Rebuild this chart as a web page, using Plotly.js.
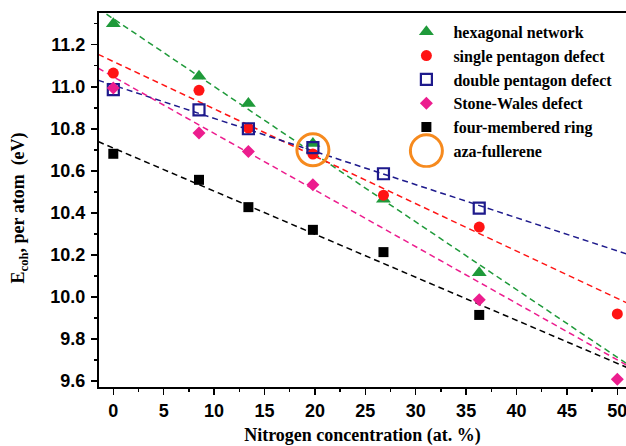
<!DOCTYPE html>
<html>
<head>
<meta charset="utf-8">
<script src="https://cdn.plot.ly/plotly-3.0.1.min.js"></script>
<style>html,body{margin:0;padding:0;background:#fff;}#plot{width:626px;height:446px;}</style>
</head>
<body>
<div id="plot"></div>
<script>
// Nitrogen concentration (at. %)
var nitrogen = [0, 8.5, 13.4, 19.8, 26.8, 36.3, 50];

// Cohesive energy per atom (eV)
var hexagonal = [11.30, 11.05, 10.92, 10.73, 10.465, 10.115, null];
var singlePentagon = [11.065, 10.983, 10.803, 10.68, 10.484, 10.332, 9.919];
var doublePentagon = [10.986, 10.89, 10.80, 10.71, 10.586, 10.422, null];
var stoneWales = [10.994, 10.78, 10.692, 10.533, null, 9.986, 9.608];
var fourMembered = [10.681, 10.557, 10.427, 10.319, 10.213, 9.914, null];

var azaX = [19.8];
var azaY = [10.70];

// Linear fit lines (end points)
var fitX = [-1.5, 51];
var fitHexagonal = [11.372, 9.680];
var fitSingle = [11.154, 9.970];
var fitDouble = [11.031, 10.203];
var fitStoneWales = [11.088, 9.673];
var fitFour = [10.739, 9.663];

var names = ['hexagonal network', 'single pentagon defect', 'double pentagon defect',
             'Stone-Wales defect', 'four-membered ring', 'aza-fullerene'];

var cGreen = '#1f9a3a', cRed = '#ff1414', cNavy = '#1e1a8c', cPink = '#ec1d8e', cBlack = '#000000', cOrange = '#f68a1e';

function fit(y, color) {
  return {x: fitX, y: y, mode: 'lines', showlegend: false, hoverinfo: 'skip',
          line: {color: color, width: 1.5, dash: '6px,4px'}};
}

var traces = [
  fit(fitHexagonal, cGreen),
  fit(fitSingle, cRed),
  fit(fitDouble, cNavy),
  fit(fitStoneWales, cPink),
  fit(fitFour, cBlack),
  {x: nitrogen, y: hexagonal, name: names[0], mode: 'markers', legendgroup: 'a',
   marker: {symbol: 'triangle-up', size: 13, color: cGreen}},
  {x: nitrogen, y: singlePentagon, name: names[1], mode: 'markers', legendgroup: 'b',
   marker: {symbol: 'circle', size: 11, color: cRed}},
  {x: nitrogen, y: doublePentagon, name: names[2], mode: 'markers', legendgroup: 'c',
   marker: {symbol: 'square-open', size: 11, color: cNavy, line: {width: 2.2, color: cNavy}}},
  {x: nitrogen, y: stoneWales, name: names[3], mode: 'markers', legendgroup: 'd',
   marker: {symbol: 'diamond', size: 10, color: cPink}},
  {x: nitrogen, y: fourMembered, name: names[4], mode: 'markers', legendgroup: 'e',
   marker: {symbol: 'square', size: 10, color: cBlack}},
  {x: azaX, y: azaY, name: names[5], mode: 'markers', legendgroup: 'f',
   marker: {symbol: 'circle-open', size: 32, color: cOrange, line: {width: 3, color: cOrange}}}
];

var tickFont = {family: 'Liberation Sans, Arial, sans-serif', size: 18, color: '#000', weight: 'bold'};
var serifBold = {family: 'Liberation Serif, Times New Roman, serif', size: 18, color: '#000', weight: 'bold'};

var layout = {
  width: 626, height: 446,
  margin: {l: 99, r: 0, t: 13, b: 59},
  paper_bgcolor: '#fff', plot_bgcolor: '#fff',
  showlegend: true,
  legend: {
    x: 0.57, xanchor: 'left', y: 0.995, yanchor: 'top',
    bgcolor: 'rgba(0,0,0,0)', borderwidth: 0,
    font: {family: 'Liberation Serif, Times New Roman, serif', size: 16, color: '#000', weight: 'bold'},
    itemwidth: 44, tracegroupgap: 0, itemclick: false
  },
  xaxis: {
    range: [-1.42, 50.86], showgrid: false, zeroline: false,
    showline: true, linecolor: '#000', linewidth: 2, mirror: true,
    ticks: 'outside', ticklen: 6, tickwidth: 1.5, tickcolor: '#000',
    tick0: 0, dtick: 5, tickfont: tickFont, ticklabeloverflow: 'allow',
    minor: {ticks: 'outside', ticklen: 3, tickwidth: 1.5, tickcolor: '#000', dtick: 2.5, tick0: 0, showgrid: false},
    title: {text: 'Nitrogen concentration (at. %)', font: serifBold, standoff: 10}
  },
  yaxis: {
    range: [9.571, 11.351], showgrid: false, zeroline: false,
    showline: true, linecolor: '#000', linewidth: 2,
    ticks: 'outside', ticklen: 6, tickwidth: 1.5, tickcolor: '#000',
    tick0: 9.6, dtick: 0.2, tickformat: '.1f', tickfont: tickFont, ticklabelstandoff: 2,
    minor: {ticks: 'outside', ticklen: 3, tickwidth: 1.5, tickcolor: '#000', dtick: 0.1, tick0: 9.6, showgrid: false}
  },
  annotations: [{
    text: 'E<sub>coh</sub>, per atom  (eV)', textangle: -90,
    xref: 'paper', yref: 'paper', x: -0.15, y: 0.48, xanchor: 'center', yanchor: 'middle',
    showarrow: false, font: serifBold
  }]
};

Plotly.newPlot('plot', traces, layout, {displayModeBar: false, staticPlot: true}).then(function (gd) {
  var items = gd.querySelectorAll('.legend .traces');
  var last = items[items.length - 1];
  if (last) {
    var p = last.querySelector('.legendpoints path.scatterpts');
    if (p) p.setAttribute('d', 'M16,0A16,16 0 1,1 0,-16A16,16 0 0,1 16,0Z');
  }
});
</script>
</body>
</html>
